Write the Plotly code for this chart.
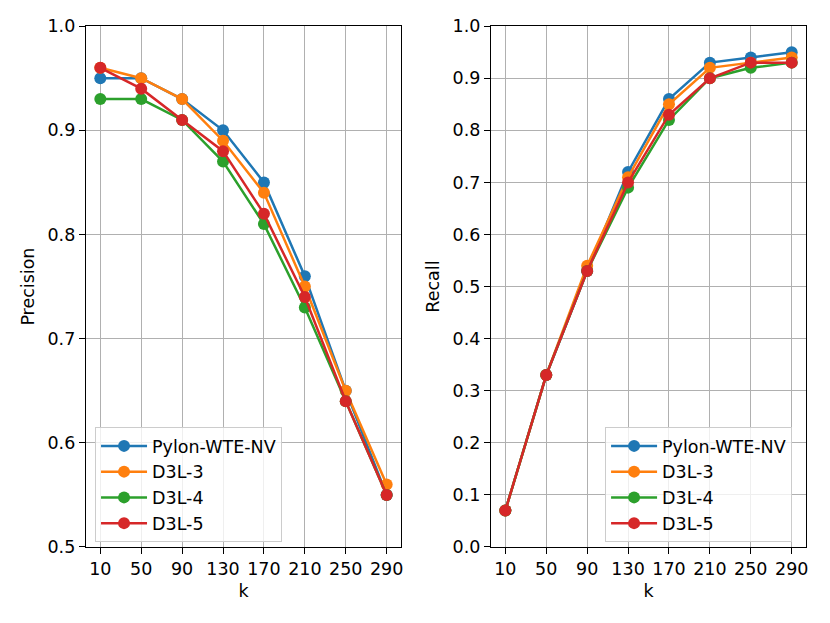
import plotly.graph_objects as go

k = [10, 50, 90, 130, 170, 210, 250, 290]
names = ["Pylon-WTE-NV", "D3L-3", "D3L-4", "D3L-5"]
colors = ["#1f77b4", "#ff7f0e", "#2ca02c", "#d62728"]

precision = {
    "Pylon-WTE-NV": [0.95, 0.95, 0.93, 0.90, 0.85, 0.76, 0.65, 0.55],
    "D3L-3": [0.96, 0.95, 0.93, 0.89, 0.84, 0.75, 0.65, 0.56],
    "D3L-4": [0.93, 0.93, 0.91, 0.87, 0.81, 0.73, 0.64, 0.55],
    "D3L-5": [0.96, 0.94, 0.91, 0.88, 0.82, 0.74, 0.64, 0.55],
}
recall = {
    "Pylon-WTE-NV": [0.07, 0.33, 0.53, 0.72, 0.86, 0.93, 0.94, 0.95],
    "D3L-3": [0.07, 0.33, 0.54, 0.71, 0.85, 0.92, 0.93, 0.94],
    "D3L-4": [0.07, 0.33, 0.53, 0.69, 0.82, 0.90, 0.92, 0.93],
    "D3L-5": [0.07, 0.33, 0.53, 0.70, 0.83, 0.90, 0.93, 0.93],
}

FONT = "DejaVu Sans"
FS = 17.5
font = dict(family=FONT, size=FS, color="black")

fig = go.Figure()

for name, c in zip(names, colors):
    fig.add_trace(go.Scatter(
        x=k, y=precision[name], name=name, mode="lines+markers",
        line=dict(color=c, width=2.5), marker=dict(color=c, size=12),
        xaxis="x", yaxis="y", legend="legend", legendgroup="p" + name))
    fig.add_trace(go.Scatter(
        x=k, y=recall[name], name=name, mode="lines+markers",
        line=dict(color=c, width=2.5), marker=dict(color=c, size=12),
        xaxis="x2", yaxis="y2", legend="legend2", legendgroup="r" + name))

axis_style = dict(
    showline=True, mirror=True, linecolor="black", linewidth=1.3,
    showgrid=True, gridcolor="#b0b0b0", gridwidth=1.1,
    ticks="outside", ticklen=6, tickcolor="black", tickwidth=1.2,
    zeroline=False, automargin=False, tickfont=font,
)

legend_style = dict(
    xanchor="left", yanchor="top", y=0.3146,
    bgcolor="rgba(255,255,255,0.8)", bordercolor="#cccccc",
    borderwidth=1, tracegroupgap=0, traceorder="grouped", itemwidth=46,
    font=font,
)

fig.update_layout(
    width=830, height=623,
    margin=dict(l=0, r=0, t=0, b=0),
    paper_bgcolor="white", plot_bgcolor="white",
    font=font,
    xaxis=dict(axis_style, domain=[0.1036, 0.4831], range=[-4, 304],
               tickvals=k, title=dict(text="k", standoff=6, font=font)),
    yaxis=dict(axis_style, domain=[0.122, 0.958], range=[0.5, 1.0],
               tickvals=[0.5, 0.6, 0.7, 0.8, 0.9, 1.0], tickformat=".1f",
               title=dict(text="Precision", standoff=8, font=font)),
    xaxis2=dict(axis_style, domain=[0.5916, 0.9711], range=[-4, 304],
                tickvals=k, title=dict(text="k", standoff=6, font=font),
                anchor="y2"),
    yaxis2=dict(axis_style, domain=[0.122, 0.958], range=[0.0, 1.0],
                tickvals=[i / 10 for i in range(11)], tickformat=".1f",
                title=dict(text="Recall", standoff=8, font=font),
                anchor="x2"),
    legend=dict(legend_style, x=0.1145),
    legend2=dict(legend_style, x=0.729),
)

# page body has an 8px default margin; drop it so the figure sits at 0,0
fig.write_html("out.html", config={"displayModeBar": False},
               post_script="document.body.style.margin='0';")
